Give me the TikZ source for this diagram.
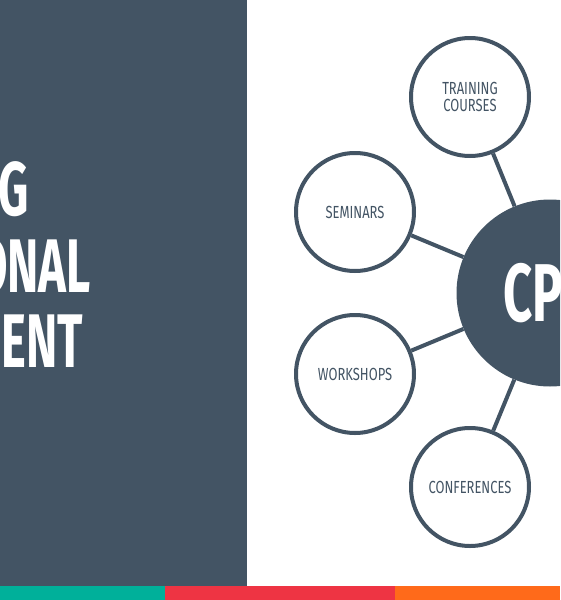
\documentclass[tikz,border=0pt]{standalone}
\usepackage{fontspec}
\setmainfont{Fira Sans}
\newfontfamily\headfont{Fira Sans}[FakeStretch=0.62]
\newfontfamily\labelfont{Fira Sans}[FakeStretch=0.74]
\usetikzlibrary{positioning,calc}
\definecolor{slate}{HTML}{435464}
\definecolor{stripeTeal}{HTML}{00B09A}
\definecolor{stripeRed}{HTML}{EE3443}
\definecolor{stripeOrange}{HTML}{FF6A1A}
\tikzset{
  topic/.style={circle, draw=slate, line width=4pt, fill=white, minimum size=118pt,
    inner sep=0pt, align=center, text=slate, font=\labelfont\fontsize{17.5}{16.5}\selectfont},
  hub/.style={circle, fill=slate, minimum size=187pt, inner sep=0pt, text=white,
    font=\headfont\bfseries\fontsize{82}{82}\selectfont},
  link/.style={draw=slate, line width=4pt},
  headline/.style={text=white, inner sep=0pt, anchor=base east,
    font=\headfont\bfseries\fontsize{76}{76}\selectfont},
}

\begin{document}
\begin{tikzpicture}[x=1pt,y=-1pt]
\useasboundingbox (0,0) rectangle (560,600);
\clip (0,0) rectangle (560,600);
% --- background panel and stripe
\fill[slate] (0,0) rectangle (247,586);
\fill[stripeTeal] (0,586) rectangle (165,600);
\fill[stripeRed] (165,586) rectangle (395,600);
\fill[stripeOrange] (395,586) rectangle (560,600);
% --- title (cut at the left edge)
\node[headline] (t1) at (29,215) {CONTINUING};
\node[headline] (t2) at (91,292) {PROFESSIONAL};
\node[headline] (t3) at (83,367) {DEVELOPMENT};
% --- hub and topics
\node[hub] (cpd) at (550,293) {CPD};
\node[topic] (train) at (470,97) {TRAINING\\COURSES};
\node[topic] (sem) at (355,212) {SEMINARS};
\node[topic] (work) at (355,374) {WORKSHOPS};
\node[topic] (conf) at (470,487) {CONFERENCES};
\foreach \t in {train,sem,work,conf}
  \draw[link] (\t) -- (cpd);
\end{tikzpicture}
\end{document}
